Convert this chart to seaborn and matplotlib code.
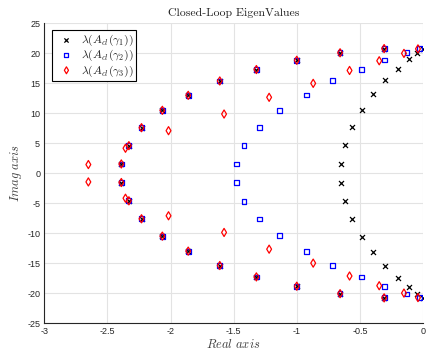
import numpy as np
import pandas as pd
import matplotlib
matplotlib.use("Agg")
import matplotlib.pyplot as plt
import seaborn as sns

# Upper-half eigenvalues (lower half are complex conjugates, as seen in the chart)
outer_re = [-2.39, -2.33, -2.23, -2.065, -1.86, -1.61, -1.32, -1.0, -0.657, -0.308]
outer_im = [1.55, 4.6, 7.6, 10.5, 13.0, 15.4, 17.3, 18.85, 20.1, 20.8]

g1_inner_re = [-0.648, -0.619, -0.563, -0.484, -0.398, -0.298, -0.2, -0.113, -0.048, -0.004]
g1_inner_im = [1.55, 4.7, 7.7, 10.6, 13.2, 15.55, 17.4, 19.0, 20.1, 20.8]

g2_inner_re = [-1.479, -1.418, -1.294, -1.135, -0.926, -0.717, -0.489, -0.302, -0.127, -0.025]
g2_inner_im = [1.55, 4.65, 7.65, 10.45, 13.05, 15.45, 17.33, 18.9, 20.15, 20.8]

g3_inner_re = [-2.651, -2.357, -2.016, -1.576, -1.219, -0.870, -0.582, -0.347, -0.151, -0.04]
g3_inner_im = [1.45, 4.17, 7.1, 9.88, 12.67, 15.0, 17.15, 18.77, 20.0, 20.75]

labels = [r'$\lambda(A_{cl}(\gamma_1))$', r'$\lambda(A_{cl}(\gamma_2))$', r'$\lambda(A_{cl}(\gamma_3))$']
x_ticks = [-3, -2.5, -2, -1.5, -1, -0.5, 0]
y_ticks = [-25, -20, -15, -10, -5, 0, 5, 10, 15, 20, 25]


def series(inner_re, inner_im):
    re = np.array(outer_re + inner_re)
    im = np.array(outer_im + inner_im)
    return pd.DataFrame({"re": np.concatenate([re, re]), "im": np.concatenate([im, -im])})


sns.set_style("whitegrid")
plt.rcParams["mathtext.fontset"] = "cm"
plt.rcParams["axes.unicode_minus"] = False
plt.rcParams["font.family"] = ["Liberation Sans", "DejaVu Sans"]

fig = plt.figure(figsize=(4.26, 3.55), dpi=100)
ax = fig.add_axes([0.104, 0.090, 0.889, 0.844])

d1 = series(g1_inner_re, g1_inner_im)
d2 = series(g2_inner_re, g2_inner_im)
d3 = series(g3_inner_re, g3_inner_im)

sns.scatterplot(data=d1, x="re", y="im", ax=ax, marker="x", color="black",
                s=13, linewidth=0.9, label=labels[0], zorder=3)
sns.scatterplot(data=d2, x="re", y="im", ax=ax, marker="s", facecolor="none",
                edgecolor="#0000ff", s=12, linewidth=0.9, label=labels[1], zorder=4)
sns.scatterplot(data=d3, x="re", y="im", ax=ax, marker="d", facecolor="none",
                edgecolor="#ff0000", s=17, linewidth=0.9, label=labels[2], zorder=5)

ax.set_xlim(-3, 0)
ax.set_ylim(-25, 25)
ax.set_xticks(x_ticks)
ax.set_xticklabels(["-3", "-2.5", "-2", "-1.5", "-1", "-0.5", "0"])
ax.set_yticks(y_ticks)
ax.set_yticklabels([str(v) for v in y_ticks])
ax.tick_params(axis="both", direction="in", length=3, width=0.8, labelsize=6.5,
               colors="#262626", pad=3)

ax.grid(True, color="#e3e3e3", linewidth=0.8)
for side in ["top", "right"]:
    ax.spines[side].set_visible(False)
for side in ["left", "bottom"]:
    ax.spines[side].set_color("#262626")
    ax.spines[side].set_linewidth(0.8)

ax.set_xlabel(r"$Real\ axis$", fontsize=9, color="#404040", labelpad=1)
ax.set_ylabel(r"$Imag\ axis$", fontsize=9, color="#404040", labelpad=2)
ax.set_title("Closed-Loop EigenValues", fontsize=8.5, family="cmr10", color="#222222", pad=5)

leg = ax.legend(loc="upper left", bbox_to_anchor=(0.021, 0.977), fontsize=8.5,
                frameon=True, fancybox=False, framealpha=1, edgecolor="black",
                borderpad=0.2, labelspacing=0.0, handletextpad=0.2, handlelength=2.0,
                borderaxespad=0.0, markerscale=0.85)
leg.get_frame().set_linewidth(0.8)

fig.savefig("out.png", dpi=100)
